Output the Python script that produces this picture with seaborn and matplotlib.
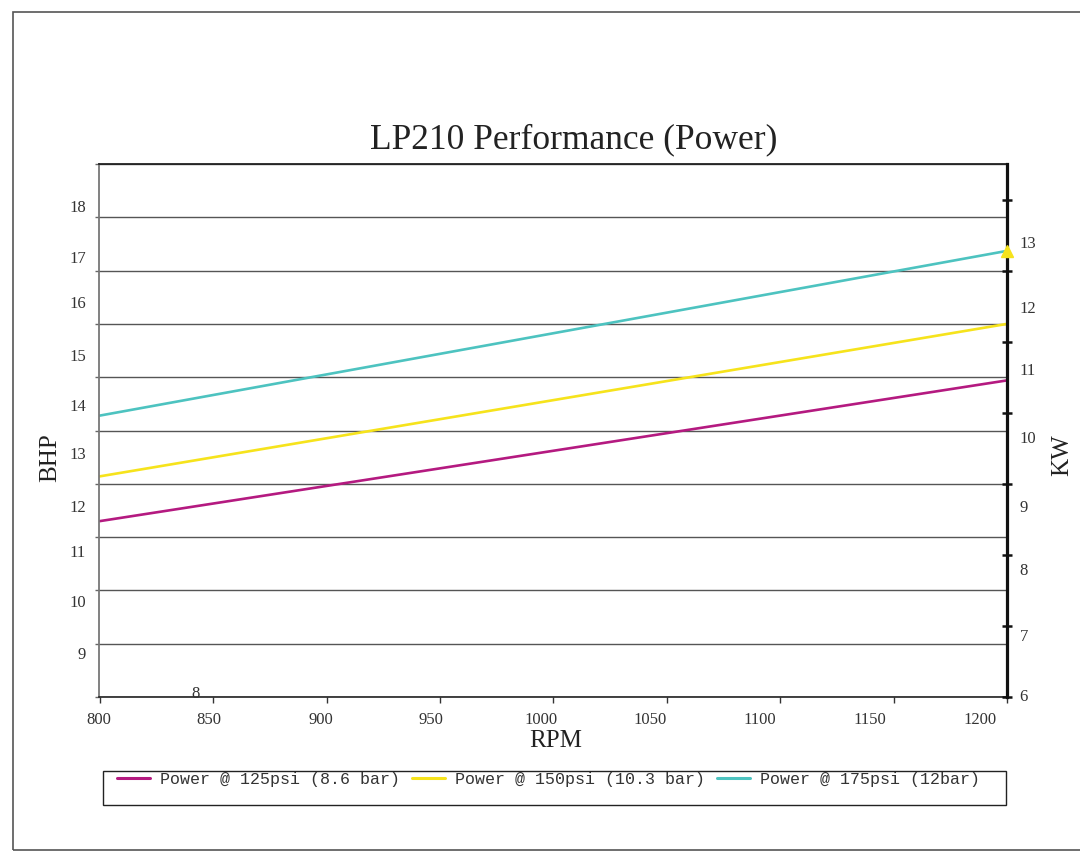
import matplotlib
matplotlib.use("Agg")
import matplotlib.pyplot as plt
import numpy as np
import pandas as pd
import seaborn as sns
from matplotlib.patches import Rectangle
from matplotlib.lines import Line2D

# ---------------- data ----------------
rpm = [800, 1200]
power_125 = [11.30, 13.94]
power_150 = [12.14, 15.00]
power_175 = [13.28, 16.37]
series_names = ["Power @ 125psi (8.6 bar)",
                "Power @ 150psi (10.3 bar)",
                "Power @ 175psi (12bar)"]
series_colors = ["#B41A80", "#F6E31C", "#4DC3C0"]

x_ticks = [800, 850, 900, 950, 1000, 1050, 1100, 1150, 1200]
x_tick_labels = ["800", "850", "900", "950", "1000", "1050", "1100", "1150", "1200"]
x_label_pos = [799.6, 848.2, 897.4, 945.8, 994.7, 1042.7, 1091.2, 1139.6, 1188.1]

bhp_ticks = [8, 9, 10, 11, 12, 13, 14, 15, 16, 17, 18]
bhp_tick_labels = ["9", "10", "11", "12", "13", "14", "15", "16", "17", "18"]
bhp_label_pos = [8.83, 9.81, 10.73, 11.59, 12.57, 13.48, 14.42, 15.42, 16.26, 17.21]
bhp_zero_label = "8"
bhp_zero_label_pos = (842.3, 8.06)

kw_ticks = [6, 7, 8, 9, 10, 11, 12, 13]
kw_tick_labels = ["6", "7", "8", "9", "10", "11", "12", "13"]
kw_label_pos = [6.03, 6.87, 7.80, 8.69, 9.66, 10.61, 11.49, 12.40]
kw_per_bhp = 0.75

marker_rpm = [1200]
marker_bhp = [16.37]

df = pd.DataFrame({
    "RPM": rpm * 3,
    "BHP": power_125 + power_150 + power_175,
    "Series": [series_names[0]] * 2 + [series_names[1]] * 2 + [series_names[2]] * 2,
})

# ---------------- figure ----------------
sns.set_theme(style="white")
plt.rcParams["font.family"] = ["Liberation Serif", "DejaVu Serif"]

fig = plt.figure(figsize=(10.8, 8.55), dpi=100)
ax = fig.add_axes([99 / 1080, 1 - 697 / 855, (1007 - 99) / 1080, (697 - 164) / 855])

sns.lineplot(data=df, x="RPM", y="BHP", hue="Series", palette=series_colors,
             hue_order=series_names, linewidth=1.9, legend=False, ax=ax)

ax.set_xlim(800, 1200)
ax.set_ylim(8, 18)

# gridlines
ax.set_yticks(bhp_ticks)
ax.set_yticklabels([])
ax.yaxis.grid(True, color="#555555", linewidth=1.0)
ax.xaxis.grid(False)
ax.tick_params(axis="y", which="major", direction="out", length=3, width=1,
               color="#666666", left=True)
ax.set_yticks(bhp_label_pos, minor=True)
ax.set_yticklabels(bhp_tick_labels, minor=True)
ax.tick_params(axis="y", which="minor", length=0, pad=9.5, labelsize=12,
               labelcolor="#333333")

ax.set_xticks(x_ticks)
ax.set_xticklabels([])
ax.tick_params(axis="x", which="major", direction="out", length=4, width=1,
               color="#333333", bottom=True)
ax.set_xticks(x_label_pos, minor=True)
ax.set_xticklabels(x_tick_labels, minor=True)
ax.tick_params(axis="x", which="minor", length=0, pad=11, labelsize=12,
               labelcolor="#333333")

ax.text(bhp_zero_label_pos[0], bhp_zero_label_pos[1], bhp_zero_label,
        ha="center", va="center", fontsize=12, color="#333333")

for side, col, lw in [("left", "#777777", 1.3), ("top", "#222222", 1.3),
                      ("bottom", "#222222", 1.2), ("right", "#222222", 0)]:
    ax.spines[side].set_visible(True)
    ax.spines[side].set_color(col)
    ax.spines[side].set_linewidth(lw)

ax.set_xlabel("")
ax.set_ylabel("")

# right axis (kW)
ax2 = ax.twinx()
ax2.set_ylim(8 * kw_per_bhp, 18 * kw_per_bhp)
ax2.set_yticks(kw_ticks)
ax2.set_yticklabels([])
ax2.tick_params(axis="y", which="major", direction="inout", length=7, width=1.8,
                color="#111111", right=True)
ax2.set_yticks(kw_label_pos, minor=True)
ax2.set_yticklabels(kw_tick_labels, minor=True)
ax2.tick_params(axis="y", which="minor", length=0, pad=9, labelsize=12,
                labelcolor="#333333")
for side in ["left", "top", "bottom"]:
    ax2.spines[side].set_visible(False)
ax2.spines["right"].set_visible(True)
ax2.spines["right"].set_color("#111111")
ax2.spines["right"].set_linewidth(2.3)
ax2.grid(False)

# end marker drawn above the kW spine
ax2.plot(marker_rpm, [v * kw_per_bhp for v in marker_bhp], marker="^",
         color="#F6E31C", markersize=9, linestyle="none", clip_on=False, zorder=10)

# labels and title
fig.text(574 / 1080, 1 - 140 / 855, "LP210 Performance (Power)",
         fontsize=25.5, ha="center", va="center", color="#222222")
fig.text(50 / 1080, 1 - 458 / 855, "BHP", rotation=90, fontsize=18,
         ha="center", va="center", color="#222222")
fig.text(1062 / 1080, 1 - 455 / 855, "KW", rotation=90, fontsize=18,
         ha="center", va="center", color="#222222")
fig.text(556 / 1080, 1 - 741 / 855, "RPM", fontsize=18,
         ha="center", va="center", color="#222222")

# legend
handles = [Line2D([0], [0], color=c, linewidth=2.2) for c in series_colors]
fig.patches.append(Rectangle((103 / 1080, 1 - 805 / 855), (1006 - 103) / 1080,
                             34 / 855, transform=fig.transFigure, fill=False,
                             edgecolor="#222222", linewidth=1.0))
leg = fig.legend(handles, series_names, loc="upper left",
                 bbox_to_anchor=(117 / 1080, 1 - 772 / 855), ncol=3,
                 frameon=False, borderpad=0, borderaxespad=0,
                 handlelength=2.0, handletextpad=0.6, columnspacing=0.7,
                 prop={"family": ["Liberation Mono", "DejaVu Sans Mono"],
                       "size": 12})
for t in leg.get_texts():
    t.set_color("#333333")

# outer frame
fig.patches.append(Rectangle((13 / 1080, 1 - 850 / 855), 1.0, (850 - 12) / 855,
                             transform=fig.transFigure, fill=False,
                             edgecolor="#555555", linewidth=1.2))

fig.savefig("out.png", dpi=100)
